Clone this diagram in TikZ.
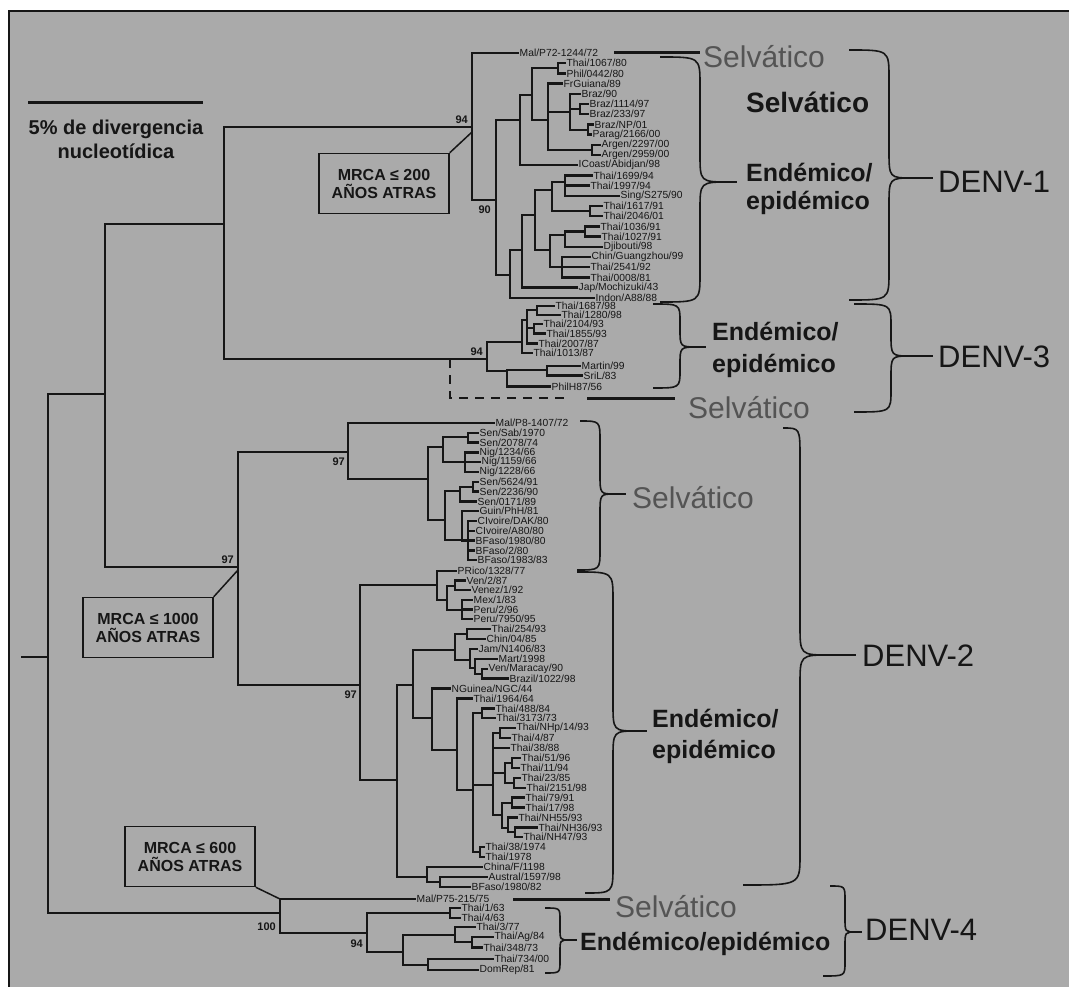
\documentclass[tikz,border=0pt]{standalone}
\usepackage{fontspec}
\setmainfont{Liberation Sans}
\usetikzlibrary{calc}

\definecolor{panel}{RGB}{170,170,170}
\definecolor{selv}{RGB}{84,84,84}
\definecolor{ink}{RGB}{22,22,22}

\tikzset{
  branch/.style={draw=ink, line width=2.3pt, line cap=rect},
  pt/.style={shape=rectangle, inner sep=0pt, minimum size=0pt},
  leaflab/.style={anchor=west, inner xsep=1.5pt, inner ysep=0pt, text=ink,
                  font=\fontsize{10.3}{10.3}\selectfont},
  support/.style={font=\bfseries\fontsize{11}{11}\selectfont, inner sep=1pt, text=ink},
  curlyline/.style={draw=ink, line width=1.6pt},
  mrca/.style={draw=ink, line width=1.5pt, minimum width=130pt, minimum height=60pt,
               align=center, inner sep=0pt, text=ink,
               font=\bfseries\fontsize{16}{18}\selectfont},
  pointer/.style={draw=ink, line width=1.5pt},
  selvline/.style={draw=ink, line width=3pt},
  dashline/.style={draw=ink, line width=2.5pt, dash pattern=on 9pt off 7pt},
  selvtxt/.style={anchor=base west, inner sep=0pt, text=selv, font=\fontsize{30}{30}\selectfont},
  boldsel/.style={anchor=base west, inner sep=0pt, text=ink, font=\bfseries\fontsize{28}{28}\selectfont},
  endtxt/.style={anchor=base west, inner sep=0pt, text=ink, font=\bfseries\fontsize{25}{25}\selectfont},
  denvtxt/.style={anchor=base west, inner sep=0pt, text=ink, font=\fontsize{31}{31}\selectfont},
  scaletxt/.style={anchor=base, inner sep=0pt, text=ink, font=\bfseries\fontsize{20}{20}\selectfont}
}

% internal node, leaf label, and the branches from a node to its children
\newcommand\inn[3]{\node[pt] (#1) at (#2,#3) {};}
\newcommand\lf[4]{\node[leaflab] (#1) at (#2,#3) {#4};}
\newcommand\twig[2]{\foreach \kid in {#2}{\draw[branch] (#1) |- (\kid.west);}}
% curly brace: top x, top y, body x, cusp x, cusp y, bottom x, bottom y, bend, end of tip stroke
\newcommand\curlybr[9]{%
  \draw[curlyline] (#1,#2) .. controls (#3,#2) .. (#3,{#2+#8}) -- (#3,{#5-#8})
    .. controls (#3,#5) .. (#4,#5) .. controls (#3,#5) .. (#3,{#5+#8})
    -- (#3,{#7-#8}) .. controls (#3,#7) .. (#6,#7);
  \draw[curlyline] (#4,#5) -- (#9,#5);}

\begin{document}
\begin{tikzpicture}[x=1pt, y=-1pt]
\useasboundingbox (0,0) rectangle (1069,987);
\fill[white] (0,0) rectangle (1069,987);
\fill[panel] (9,11) rectangle (1069,987);
\draw[ink, line width=1.2pt] (9,987) -- (9,11) -- (1069,11);

% scale bar
\coordinate (sb1) at (28,103);
\coordinate (sb2) at (203,103);
\draw[ink, line width=3pt] (sb1) -- (sb2);
\node[scaletxt] (sbt1) at (116,135) {5\% de divergencia};
\node[scaletxt] (sbt2) at (116,159) {nucleotídica};

% ---------------- backbone ----------------
\coordinate (rootend) at (22,657);
\inn{r0}{48}{657}
\draw[branch] (rootend) -- (r0);
\inn{x1}{105}{394}
\inn{x2}{224}{224}
\inn{d1}{472}{127}
\inn{d3}{487}{359}
\inn{d2}{238}{567}
\inn{d4}{280}{913}
\twig{r0}{x1,d4}
\twig{x1}{x2,d2}
\twig{x2}{d1,d3}

% ---------------- DENV-1 ----------------
\inn{a2}{496}{200}
\lf{la}{518}{53}{Mal/P72-1244/72}
\twig{d1}{la,a2}
\inn{b1}{520}{120}
\inn{b2}{510}{275}
\twig{a2}{b1,b2}
\inn{c1}{532}{95}
\lf{ll}{577}{165.2}{ICoast/Abidjan/98}
\twig{b1}{c1,ll}
\inn{dd1}{558}{68}
\inn{dd2}{548}{120}
\twig{c1}{dd1,dd2}
\lf{lb}{565}{63.2}{Thai/1067/80}
\lf{lc}{565}{73.4}{Phil/0442/80}
\twig{dd1}{lb,lc}
\lf{ld}{562}{83.6}{FrGuiana/89}
\inn{e1}{570}{112}
\inn{e2}{592}{150}
\twig{dd2}{ld,e1,e2}
\lf{le}{580}{93.8}{Braz/90}
\inn{f1}{580}{109}
\inn{f2}{588}{130}
\twig{e1}{le,f1,f2}
\lf{lf}{588}{104}{Braz/1114/97}
\lf{lg}{588}{114.2}{Braz/233/97}
\twig{f1}{lf,lg}
\lf{lh}{593}{124.4}{Braz/NP/01}
\lf{li}{591}{134.6}{Parag/2166/00}
\twig{f2}{lh,li}
\lf{lj}{600}{144.8}{Argen/2297/00}
\lf{lk}{600}{155}{Argen/2959/00}
\twig{e2}{lj,lk}
\inn{c3}{522}{250}
\lf{ly}{594}{297.8}{Indon/A88/88}
\twig{b2}{c3,ly}
\inn{dd3}{535}{215}
\lf{lx}{577}{287.6}{Jap/Mochizuki/43}
\twig{c3}{dd3,lx}
\inn{e3}{552}{190}
\inn{e4}{550}{250}
\twig{dd3}{e3,e4}
\inn{f3}{565}{182}
\inn{f4}{590}{211}
\twig{e3}{f3,f4}
\lf{lm}{592}{175.4}{Thai/1699/94}
\lf{ln}{589}{185.6}{Thai/1997/94}
\lf{lo}{619}{195.8}{Sing/S275/90}
\twig{f3}{lm,ln,lo}
\lf{lp}{602}{206}{Thai/1617/91}
\lf{lq}{602}{216.2}{Thai/2046/01}
\twig{f4}{lp,lq}
\inn{g1}{565}{235}
\inn{g2}{562}{267}
\twig{e4}{g1,g2}
\inn{g1a}{585}{231.5}
\lf{lt}{602}{246.8}{Djibouti/98}
\twig{g1}{g1a,lt}
\lf{lr}{599}{226.4}{Thai/1036/91}
\lf{ls}{600}{236.6}{Thai/1027/91}
\twig{g1a}{lr,ls}
\lf{lu}{590}{257}{Chin/Guangzhou/99}
\lf{lv}{589}{267.2}{Thai/2541/92}
\lf{lw}{589}{277.4}{Thai/0008/81}
\twig{g2}{lu,lv,lw}

% ---------------- DENV-3 ----------------
\inn{u}{522}{342}
\inn{v}{507}{371}
\twig{d3}{u,v}
\inn{u1}{527}{320}
\lf{l3f}{532}{353}{Thai/1013/87}
\twig{u}{u1,l3f}
\inn{u2}{537}{310}
\inn{u3}{534}{328}
\lf{l3e}{537}{343.5}{Thai/2007/87}
\twig{u1}{u2,u3,l3e}
\lf{l3a}{554}{306}{Thai/1687/98}
\lf{l3b}{560}{315}{Thai/1280/98}
\twig{u2}{l3a,l3b}
\lf{l3c}{542}{324}{Thai/2104/93}
\lf{l3d}{545}{333.5}{Thai/1855/93}
\twig{u3}{l3c,l3d}
\inn{v1}{547}{370}
\lf{l3i}{550}{386.5}{PhilH87/56}
\twig{v}{v1,l3i}
\lf{l3g}{580}{366}{Martin/99}
\lf{l3h}{582}{375.5}{SriL/83}
\twig{v1}{l3g,l3h}
% hypothetical sylvatic DENV-3 lineage
\coordinate (dsA) at (450,359);
\coordinate (dsB) at (450,398);
\coordinate (dsC) at (568,398);
\draw[dashline] (dsA) -- (dsB) -- (dsC);
\coordinate (s3a) at (587,398);
\coordinate (s3b) at (675,398);
\draw[selvline] (s3a) -- (s3b);

% ---------------- DENV-2 ----------------
\inn{s2}{348}{452}
\inn{e2n}{360}{685}
\twig{d2}{s2,e2n}
\lf{m1}{494}{423}{Mal/P8-1407/72}
\inn{s3}{428}{479}
\twig{s2}{m1,s3}
\inn{s4}{443}{447}
\inn{s7}{445}{520}
\twig{s3}{s4,s7}
\inn{s5}{468}{437}
\inn{s6}{465}{462}
\twig{s4}{s5,s6}
\lf{m2}{478}{432.8}{Sen/Sab/1970}
\lf{m3}{478}{442.6}{Sen/2078/74}
\twig{s5}{m2,m3}
\lf{m4}{478}{452.4}{Nig/1234/66}
\lf{m5}{480}{462.2}{Nig/1159/66}
\lf{m6}{478}{472}{Nig/1228/66}
\twig{s6}{m4,m5,m6}
\inn{s8}{460}{491}
\inn{s9}{462}{540}
\twig{s7}{s8,s9}
\inn{s8a}{473}{486.7}
\lf{m9}{476}{501.4}{Sen/0171/89}
\twig{s8}{s8a,m9}
\lf{m7}{478}{481.8}{Sen/5624/91}
\lf{m8}{478}{491.6}{Sen/2236/90}
\twig{s8a}{m7,m8}
\lf{m10}{478}{511.2}{Guin/PhH/81}
\inn{s10}{468}{540.6}
\twig{s9}{m10,s10}
\lf{m11}{476}{521}{CIvoire/DAK/80}
\lf{m12}{474}{530.8}{CIvoire/A80/80}
\lf{m13}{474}{540.6}{BFaso/1980/80}
\lf{m14}{474}{550.4}{BFaso/2/80}
\lf{m15}{476}{560.2}{BFaso/1983/83}
\twig{s10}{m11,m12,m13,m14,m15}

\inn{am}{437}{585}
\inn{ff}{397}{780}
\twig{e2n}{am,ff}
\lf{n1}{456}{571}{PRico/1328/77}
\inn{am2}{447}{600}
\twig{am}{n1,am2}
\inn{am3}{455}{586}
\inn{am4}{462}{610}
\twig{am2}{am3,am4}
\lf{n2}{465}{580.6}{Ven/2/87}
\lf{n3}{470}{590.3}{Venez/1/92}
\twig{am3}{n2,n3}
\lf{n4}{472}{599.9}{Mex/1/83}
\lf{n5}{472}{609.5}{Peru/2/96}
\lf{n6}{472}{619.2}{Peru/7950/95}
\twig{am4}{n4,n5,n6}

\inn{gg}{413}{685}
\inn{nn}{427}{877}
\twig{ff}{gg,nn}
\inn{hh}{455}{650}
\inn{ii}{432}{718}
\twig{gg}{hh,ii}
\inn{h1}{467}{634}
\inn{h2}{470}{660}
\twig{hh}{h1,h2}
\lf{k0}{490}{629}{Thai/254/93}
\lf{k1}{485}{638.9}{Chin/04/85}
\twig{h1}{k0,k1}
\inn{h3}{475}{668}
\lf{k2}{477}{648.8}{Jam/N1406/83}
\twig{h2}{k2,h3}
\inn{h4}{482}{674}
\lf{k3}{497}{658.8}{Mart/1998}
\twig{h3}{k3,h4}
\lf{k4}{487}{668.7}{Ven/Maracay/90}
\lf{k5}{508}{678.6}{Brazil/1022/98}
\twig{h4}{k4,k5}
\inn{jj}{457}{750}
\lf{k6}{450}{688.5}{NGuinea/NGC/44}
\twig{ii}{k6,jj}
\inn{kk}{473}{790}
\lf{k7}{472}{698.4}{Thai/1964/64}
\twig{jj}{k7,kk}
\inn{kq}{482}{713}
\inn{mm}{493}{785}
\inn{lq2}{480}{852}
\twig{kk}{kq,mm,lq2}
\lf{k8}{494}{708.4}{Thai/488/84}
\lf{k9}{495}{718.3}{Thai/3173/73}
\twig{kq}{k8,k9}
\inn{mq1}{500}{733}
\inn{mq2}{505}{773}
\inn{mq3}{502}{815}
\lf{k12}{509}{748}{Thai/38/88}
\twig{mm}{mq1,k12,mq2,mq3}
\lf{k10}{515}{728.2}{Thai/NHp/14/93}
\lf{k11}{510}{738.1}{Thai/4/87}
\twig{mq1}{k10,k11}
\inn{mq2a}{512}{763}
\inn{mq2b}{514}{783}
\twig{mq2}{mq2a,mq2b}
\lf{k13}{520}{758}{Thai/51/96}
\lf{k14}{519}{767.9}{Thai/11/94}
\twig{mq2a}{k13,k14}
\lf{k15}{520}{777.8}{Thai/23/85}
\lf{k16}{525}{787.7}{Thai/2151/98}
\twig{mq2b}{k15,k16}
\inn{mq3a}{512}{803}
\inn{mq3b}{508}{828}
\twig{mq3}{mq3a,mq3b}
\lf{k17}{524}{797.6}{Thai/79/91}
\lf{k18}{524}{807.5}{Thai/17/98}
\twig{mq3a}{k17,k18}
\inn{mq3c}{515}{832}
\lf{k19}{517}{817.5}{Thai/NH55/93}
\twig{mq3b}{k19,mq3c}
\lf{k20}{537}{827.4}{Thai/NH36/93}
\lf{k21}{522}{837.3}{Thai/NH47/93}
\twig{mq3c}{k20,k21}
\lf{k22}{484}{847.2}{Thai/38/1974}
\lf{k23}{484}{857.1}{Thai/1978}
\twig{lq2}{k22,k23}
\inn{nq2}{440}{882}
\lf{k24}{482}{867}{China/F/1198}
\twig{nn}{k24,nq2}
\lf{k25}{487}{876.9}{Austral/1597/98}
\lf{k26}{470}{886.9}{BFaso/1980/82}
\twig{nq2}{k25,k26}

% ---------------- DENV-4 ----------------
\lf{q0}{415}{899}{Mal/P75-215/75}
\inn{pp}{367}{933}
\twig{d4}{q0,pp}
\inn{p1}{450}{913}
\inn{p2}{403}{952}
\twig{pp}{p1,p2}
\lf{q1}{460}{908}{Thai/1/63}
\lf{q2}{460}{918}{Thai/4/63}
\twig{p1}{q1,q2}
\inn{p3}{455}{935}
\inn{p5}{428}{965}
\twig{p2}{p3,p5}
\inn{p4}{472}{942}
\lf{q3}{475}{927}{Thai/3/77}
\twig{p3}{q3,p4}
\lf{q4}{493}{937}{Thai/Ag/84}
\lf{q5}{482}{947.5}{Thai/348/73}
\twig{p4}{q4,q5}
\lf{q6}{493}{959}{Thai/734/00}
\lf{q7}{478}{970}{DomRep/81}
\twig{p5}{q6,q7}
\coordinate (s4a) at (513,899);
\coordinate (s4b) at (610,899);
\draw[selvline] (s4a) -- (s4b);

% ---------------- bootstrap values ----------------
\node[support, anchor=south east] (bs1) at (469,125) {94};
\node[support, anchor=east] (bs2) at (492,210) {90};
\node[support, anchor=south east] (bs3) at (484,357) {94};
\node[support, anchor=south east] (bs4) at (235,565) {97};
\node[support, anchor=north east] (bs5) at (346,457) {97};
\node[support, anchor=north east] (bs6) at (358,690) {97};
\node[support, anchor=east] (bs7) at (277,927) {100};
\node[support, anchor=east] (bs8) at (364,944) {94};

% ---------------- MRCA callouts ----------------
\node[mrca] (box1) at (384,183.5) {MRCA ≤ 200\\AÑOS ATRAS};
\node[mrca] (box2) at (148,627.5) {MRCA ≤ 1000\\AÑOS ATRAS};
\node[mrca] (box3) at (190,856.5) {MRCA ≤ 600\\AÑOS ATRAS};
\draw[pointer] (box1.north east) -- ($(d1)+(0,5)$);
\draw[pointer] (box2.north east) -- ($(d2)+(0,3)$);
\draw[pointer] (box3.south east) -- ($(d4)+(0,-14)$);

% ---------------- group labels ----------------
\node[selvtxt] (sv1) at (703,68) {Selvático};
\coordinate (s1a) at (614,53);
\coordinate (s1b) at (700,53);
\draw[selvline] (s1a) -- (s1b);
\node[boldsel] (bs) at (746,113) {Selvático};
\node[endtxt] (en1a) at (746,182) {Endémico/};
\node[endtxt] (en1b) at (746,210) {epidémico};
\node[denvtxt] (dv1) at (938,193) {DENV-1};

\node[endtxt] (en3a) at (712,340) {Endémico/};
\node[endtxt] (en3b) at (712,372) {epidémico};
\node[denvtxt] (dv3) at (938,367) {DENV-3};
\node[selvtxt] (sv3) at (688,418) {Selvático};

\node[selvtxt] (sv2) at (632,508) {Selvático};
\node[endtxt] (en2a) at (652,727) {Endémico/};
\node[endtxt] (en2b) at (652,758) {epidémico};
\node[denvtxt] (dv2) at (862,666) {DENV-2};

\node[selvtxt] (sv4) at (615,917) {Selvático};
\node[endtxt] (en4) at (580,950) {Endémico/epidémico};
\node[denvtxt] (dv4) at (865,940) {DENV-4};

% ---------------- braces ----------------
\curlybr{660}{57}{700}{730}{182}{660}{302}{28}{737}
\curlybr{849}{50}{889}{913}{178}{849}{300}{28}{933}
\curlybr{653}{304}{680}{698}{347}{653}{388}{18}{706}
\curlybr{854}{304}{891}{911}{356}{854}{412}{22}{933}
\curlybr{580}{421}{600}{615}{494}{577}{570}{20}{626}
\curlybr{577}{572}{613}{638}{731}{585}{893}{28}{647}
\curlybr{783}{428}{800}{830}{655}{743}{885}{30}{856}
\curlybr{545}{908}{560}{570}{940}{545}{973}{12}{577}
\curlybr{830}{886}{845}{856}{932}{823}{976}{14}{862}
\end{tikzpicture}
\end{document}
